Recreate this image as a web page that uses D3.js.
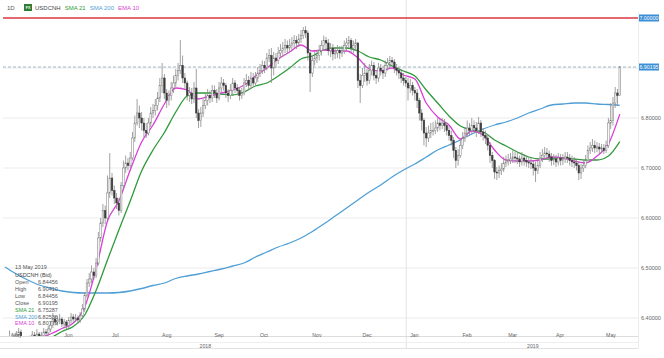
<!DOCTYPE html>
<html><head><meta charset="utf-8">
<script src="https://cdn.jsdelivr.net/npm/d3@7"></script>
<style>body{margin:0;background:#fff}svg{display:block;font-family:"Liberation Sans",Arial,sans-serif}</style>
</head><body><svg id="c" width="664" height="358"></svg>
<script>
// ---- data ----
const startDate = "2018-04-30", endDate = "2019-05-13";   // daily bars, weekdays
const firstOpen = 6.330;
const closes = [6.338,6.355,6.362,6.350,6.358, 6.366,6.372,6.360,6.348,6.342, 6.345,6.358,6.366,6.362,6.368, 6.360,6.365,6.372,6.370,6.378,
 6.385,6.398,6.392,6.395, 6.398, 6.388,6.392,6.385,6.395,6.402, 6.398,6.400,6.396,6.405,6.418, 6.445,6.470,6.478,6.492,6.485,
 6.510,6.560,6.590,6.615,6.600, 6.650,6.680,6.655,6.640,6.630, 6.615,6.665,6.700,6.710,6.705, 6.720,6.760,6.790,6.810,6.800,
 6.790,6.775,6.770,6.790,6.810, 6.815,6.825, 6.840,6.865,6.880, 6.850,6.835,6.845,6.860,6.870, 6.885,6.895,6.905,6.880,6.870,
 6.845,6.850,6.838,6.860,6.810, 6.795,6.810,6.825,6.835,6.845, 6.840,6.855,6.850,6.840,6.860, 6.870,6.865,6.850,6.845,6.855,
 6.870,6.860,6.855,6.845,6.850, 6.870,6.875,6.865,6.880,6.870, 6.880,6.890,6.895,6.905,6.900, 6.920,6.925,6.900,6.920,6.915,
 6.930,6.935,6.940,6.945,6.940, 6.945,6.950,6.955,6.950,6.958, 6.965,6.975,6.970, 6.930,6.890, 6.915,6.920,6.925,6.935,6.945,
 6.955,6.950,6.935,6.940,6.928, 6.930,6.935,6.930,6.935,6.945, 6.950,6.955,6.940,6.945,6.950, 6.875,6.865,6.885,6.890,6.875,
 6.895,6.905,6.885,6.880,6.900, 6.895,6.890,6.905,6.910,6.915, 6.912,6.900,6.895,6.890,6.880, 6.875, 6.870,6.860,6.865,6.855,
 6.850,6.835,6.810,6.795,6.770, 6.760,6.770,6.775,6.775,6.780, 6.790,6.785,6.790,6.785,6.775, 6.765,6.755,6.735,6.715, 6.725,
 6.745,6.760,6.770,6.780,6.775, 6.785,6.780,6.775,6.790,6.772, 6.765,6.760,6.745,6.725,6.715, 6.692,6.690,6.695,6.698, 6.710,
 6.712,6.715,6.718,6.722,6.720, 6.718,6.712,6.720,6.715,6.712, 6.710,6.708,6.700,6.695,6.705, 6.720,6.725,6.730,6.728,6.722,
 6.715,6.718,6.712,6.720,6.715, 6.718,6.722,6.720,6.715,6.712, 6.710,6.705,6.690,6.700,6.705, 6.715,6.735,6.740,6.745,6.740,
 6.742,6.738, 6.740,6.735,6.745, 6.790,6.795,6.830,6.850,6.84456, 6.90195];
const highs = [6.345,6.362,6.375,6.368,6.366, 6.374,6.380,6.377,6.364,6.353, 6.352,6.365,6.374,6.372,6.378, 6.372,6.372,6.380,6.378,6.385,
 6.392,6.410,6.405,6.404, 6.408, 6.402,6.398,6.396,6.402,6.410, 6.408,6.408,6.405,6.412,6.428, 6.452,6.478,6.490,6.505,6.500,
 6.520,6.572,6.600,6.628,6.625, 6.685,6.730,6.690,6.665,6.650, 6.640,6.672,6.715,6.725,6.720, 6.732,6.772,6.805,6.838,6.825,
 6.812,6.800,6.790,6.800,6.822, 6.828,6.838, 6.852,6.880,6.910, 6.888,6.858,6.855,6.872,6.885, 6.898,6.910,6.956,6.925,6.890,
 6.875,6.862,6.860,6.872,6.898, 6.818,6.822,6.838,6.848,6.858, 6.855,6.866,6.865,6.858,6.872, 6.882,6.878,6.870,6.858,6.868,
 6.880,6.876,6.868,6.862,6.860, 6.880,6.888,6.884,6.892,6.890, 6.892,6.902,6.908,6.915,6.914, 6.930,6.938,6.940,6.932,6.930,
 6.942,6.948,6.952,6.958,6.955, 6.958,6.962,6.966,6.964,6.968, 6.976,6.982,6.984, 6.975,6.935, 6.925,6.932,6.936,6.946,6.955,
 6.965,6.962,6.958,6.950,6.948, 6.942,6.946,6.944,6.945,6.955, 6.960,6.964,6.960,6.955,6.958, 6.952,6.888,6.900,6.910,6.898,
 6.908,6.915,6.912,6.895,6.910, 6.908,6.905,6.915,6.920,6.924, 6.922,6.918,6.908,6.902,6.898, 6.890, 6.882,6.880,6.878,6.872,
 6.862,6.858,6.840,6.818,6.800, 6.782,6.785,6.790,6.792,6.795, 6.800,6.798,6.800,6.798,6.792, 6.785,6.775,6.762,6.742, 6.738,
 6.758,6.772,6.782,6.795,6.790, 6.800,6.795,6.792,6.802,6.796, 6.780,6.775,6.768,6.752,6.732, 6.718,6.702,6.705,6.710, 6.722,
 6.725,6.728,6.730,6.735,6.732, 6.730,6.725,6.732,6.728,6.724, 6.722,6.720,6.715,6.712,6.716, 6.732,6.738,6.742,6.740,6.735,
 6.730,6.728,6.726,6.730,6.728, 6.728,6.732,6.732,6.728,6.725, 6.722,6.718,6.712,6.708,6.716, 6.726,6.745,6.752,6.758,6.755,
 6.752,6.750, 6.748,6.748,6.755, 6.800,6.830,6.842,6.862,6.858, 6.90410];
const lows = [6.328,6.334,6.350,6.344,6.345, 6.352,6.360,6.355,6.342,6.335, 6.333,6.340,6.352,6.355,6.356, 6.352,6.355,6.360,6.362,6.365,
 6.372,6.380,6.385,6.385, 6.388, 6.382,6.380,6.378,6.380,6.390, 6.390,6.392,6.388,6.390,6.400, 6.412,6.440,6.462,6.470,6.476,
 6.480,6.505,6.552,6.582,6.588, 6.595,6.640,6.645,6.628,6.618, 6.605,6.610,6.655,6.690,6.695, 6.700,6.715,6.752,6.785,6.780,
 6.775,6.762,6.760,6.765,6.782, 6.800,6.805, 6.815,6.832,6.850, 6.838,6.820,6.825,6.835,6.850, 6.862,6.875,6.888,6.870,6.858,
 6.835,6.832,6.828,6.830,6.800, 6.780,6.782,6.802,6.818,6.825, 6.830,6.832,6.840,6.830,6.835, 6.852,6.855,6.840,6.832,6.838,
 6.848,6.850,6.845,6.835,6.838, 6.845,6.862,6.856,6.858,6.862, 6.865,6.872,6.882,6.888,6.890, 6.895,6.912,6.870,6.885,6.900,
 6.908,6.920,6.925,6.930,6.928, 6.932,6.935,6.940,6.938,6.942, 6.950,6.958,6.960, 6.915,6.852, 6.882,6.905,6.910,6.915,6.925,
 6.935,6.938,6.925,6.922,6.915, 6.918,6.920,6.918,6.922,6.928, 6.935,6.940,6.930,6.930,6.935, 6.860,6.830,6.860,6.872,6.865,
 6.868,6.885,6.875,6.868,6.872, 6.885,6.878,6.882,6.895,6.900, 6.902,6.890,6.885,6.878,6.870, 6.865, 6.862,6.835,6.850,6.845,
 6.835,6.820,6.795,6.775,6.745, 6.742,6.752,6.760,6.765,6.768, 6.772,6.775,6.778,6.772,6.765, 6.755,6.745,6.720,6.700, 6.705,
 6.720,6.738,6.752,6.762,6.765, 6.768,6.770,6.762,6.768,6.762, 6.755,6.748,6.735,6.710,6.700, 6.678,6.676,6.680,6.686, 6.692,
 6.702,6.705,6.708,6.710,6.710, 6.708,6.702,6.705,6.705,6.702, 6.700,6.698,6.685,6.672,6.688, 6.700,6.712,6.716,6.718,6.712,
 6.705,6.706,6.702,6.705,6.705, 6.706,6.710,6.710,6.705,6.702, 6.700,6.695,6.676,6.678,6.692, 6.700,6.710,6.728,6.732,6.730,
 6.732,6.728, 6.730,6.728,6.730, 6.740,6.778,6.785,6.820,6.825, 6.84456];
// moving averages, sampled on each Monday from maStart
const maStart = "2018-04-30";
const sma21 = [6.335,6.340,6.345,6.352,6.360,6.373,6.383,6.406,6.455,6.516,6.576,6.634,6.694,6.736,6.771,6.812,6.844,6.850,6.850,6.848,
 6.846,6.852,6.864,6.870,6.884,6.900,6.918,6.924,6.936,6.940,6.940,6.934,6.922,6.916,6.904,6.894,6.884,6.856,6.830,6.804,
 6.784,6.776,6.772,6.756,6.744,6.732,6.722,6.718,6.718,6.720,6.718,6.716,6.716,6.724,6.75287];
const sma200 = [6.502,6.488,6.476,6.466,6.460,6.454,6.451,6.450,6.450,6.450,6.451,6.454,6.459,6.465,6.470,6.479,6.484,6.488,6.493,6.498,
 6.504,6.510,6.522,6.532,6.542,6.550,6.560,6.573,6.588,6.604,6.620,6.636,6.652,6.666,6.682,6.696,6.708,6.722,6.736,6.746,
 6.756,6.768,6.778,6.786,6.792,6.800,6.810,6.818,6.826,6.828,6.830,6.830,6.828,6.827,6.82536];
const ema10 = [6.345,6.355,6.355,6.360,6.368,6.379,6.390,6.422,6.498,6.594,6.634,6.696,6.752,6.786,6.828,6.860,6.856,6.838,6.844,6.850,
 6.856,6.866,6.884,6.900,6.918,6.932,6.946,6.934,6.936,6.934,6.934,6.920,6.898,6.894,6.900,6.886,6.878,6.830,6.802,6.786,
 6.758,6.774,6.766,6.736,6.716,6.714,6.714,6.716,6.722,6.720,6.714,6.710,6.724,6.748,6.80779];
const yTicks = [6.4, 6.5, 6.6, 6.7, 6.8, 6.9];
const levelLine = 7.0;
const symbol = "USDCNH", period = "1D";
const seriesNames = ["SMA 21", "SMA 200", "EMA 10"];
const seriesColors = ["#2e9a3a", "#4f9fd6", "#d93fd6"];

// ---- chart ----
const svg = d3.select("#c");
const plot = {l: 3, r: 638, t: 12, b: 336};
const parse = d3.utcParse("%Y-%m-%d");
const days = d3.utcDay.range(parse(startDate), d3.utcDay.offset(parse(endDate), 1))
  .filter(d => d.getUTCDay() !== 0 && d.getUTCDay() !== 6);
const n = days.length;
const bars = days.map((d, i) => ({d, i, o: i ? closes[i-1] : firstOpen, h: highs[i], l: lows[i], c: closes[i]}));

const x = d3.scaleLinear().domain([0, n + 7]).range([5, plot.r]);
const y = d3.scaleLinear().domain([6.4, 7.0]).range([318, 18]);

svg.append("defs").append("clipPath").attr("id", "clip")
  .append("rect").attr("x", plot.l).attr("y", plot.t).attr("width", plot.r - plot.l).attr("height", plot.b - plot.t);

// grid
svg.append("g").selectAll("line").data(yTicks).join("line")
  .attr("x1", plot.l).attr("x2", plot.r).attr("y1", d => y(d)).attr("y2", d => y(d))
  .attr("stroke", "#ebebeb").attr("stroke-width", 1);

// month index positions (first trading day of each month; the partial April day is skipped)
const monthIdx = [];
days.forEach((d, i) => { if (i > 0 && d.getUTCMonth() !== days[i-1].getUTCMonth()) monthIdx.push(i); });
const janIdx = monthIdx.find(i => days[i].getUTCMonth() === 0);

// year separator
svg.append("line").attr("x1", x(janIdx) + 0.5).attr("x2", x(janIdx) + 0.5).attr("y1", 0).attr("y2", 348)
  .attr("stroke", "#e2e2e2");
// right separator
svg.append("line").attr("x1", plot.r + 0.5).attr("x2", plot.r + 0.5).attr("y1", plot.t).attr("y2", 348)
  .attr("stroke", "#ececec");

const g = svg.append("g").attr("clip-path", "url(#clip)");

// level line and close line
g.append("line").attr("x1", plot.l).attr("x2", plot.r).attr("y1", y(levelLine)).attr("y2", y(levelLine))
  .attr("stroke", "#d8373f").attr("stroke-width", 1.3);
g.append("line").attr("x1", plot.l).attr("x2", plot.r).attr("y1", y(closes[n-1])).attr("y2", y(closes[n-1]))
  .attr("stroke", "#8ea6b8").attr("stroke-width", 0.8).attr("stroke-dasharray", "3,2");

// moving averages
const maIdx = d3.range(sma21.length).map(k => {
  const md = d3.utcDay.offset(parse(maStart), 7 * k);
  return d3.bisectLeft(days, md);
});
const line = d3.line().curve(d3.curveMonotoneX).x(d => x(d[0])).y(d => y(d[1]));
[[sma200, seriesColors[1]], [sma21, seriesColors[0]], [ema10, seriesColors[2]]].forEach(([arr, col]) => {
  g.append("path").datum(arr.map((v, j) => [maIdx[j], v]))
    .attr("d", line).attr("fill", "none").attr("stroke", col).attr("stroke-width", 1.3);
});

// candles
const cg = g.append("g");
cg.selectAll("line").data(bars).join("line")
  .attr("x1", d => x(d.i)).attr("x2", d => x(d.i))
  .attr("y1", d => y(d.h)).attr("y2", d => y(d.l))
  .attr("stroke", "#8a8a8a").attr("stroke-width", 0.8);
cg.selectAll("rect").data(bars).join("rect")
  .attr("x", d => x(d.i) - 0.8).attr("width", 1.6)
  .attr("y", d => y(Math.max(d.o, d.c)))
  .attr("height", d => Math.max(0.8, Math.abs(y(d.o) - y(d.c))))
  .attr("fill", d => d.c >= d.o ? "#ffffff" : "#3c3c3c")
  .attr("stroke", d => d.c >= d.o ? "#7a7a7a" : "#3c3c3c").attr("stroke-width", 0.5);

// right axis
const fmt = d3.format(".5f");
const ay = svg.append("g").attr("transform", `translate(${plot.r},0)`)
  .call(d3.axisRight(y).tickValues(yTicks.filter(t => t < 6.85)).tickFormat(fmt).tickSize(0).tickPadding(3));
ay.select(".domain").remove();
ay.selectAll("text").attr("font-size", 5.5).attr("fill", "#666").attr("font-family", "Liberation Sans, Arial");

// value tags
[levelLine, closes[n-1]].forEach(v => {
  svg.append("rect").attr("x", plot.r + 1).attr("y", y(v) - 3.5).attr("width", 20).attr("height", 7).attr("fill", "#3b8fd6");
  svg.append("text").attr("x", plot.r + 11).attr("y", y(v) + 2).attr("text-anchor", "middle")
    .attr("font-size", 5.3).attr("fill", "#fff").text(fmt(v));
});

// bottom axis
svg.append("line").attr("x1", 0).attr("x2", plot.r).attr("y1", 336.5).attr("y2", 336.5).attr("stroke", "#dcdcdc");
svg.append("line").attr("x1", 0).attr("x2", plot.r).attr("y1", 342.5).attr("y2", 342.5).attr("stroke", "#efefef");
svg.append("line").attr("x1", 0).attr("x2", plot.r).attr("y1", 348.5).attr("y2", 348.5).attr("stroke", "#e2e2e2");
const ax = svg.append("g").attr("transform", "translate(0,336)")
  .call(d3.axisBottom(x).tickValues(monthIdx).tickFormat(i => d3.utcFormat("%b")(days[i])).tickSize(0).tickPadding(0));
ax.select(".domain").remove();
ax.selectAll("text").attr("text-anchor", "start").attr("dx", 4).attr("dy", "0.1em")
  .attr("font-size", 5.2).attr("fill", "#666");
[[0, janIdx], [janIdx, null]].forEach(([a, b]) => {
  const x0 = x(a), x1 = b === null ? 660 : x(b);
  svg.append("text").attr("x", (x0 + x1) / 2).attr("y", 347.5).attr("text-anchor", "middle")
    .attr("font-size", 5.2).attr("fill", "#666").text(d3.utcFormat("%Y")(days[a]));
});

// header
svg.append("text").attr("x", 7).attr("y", 10).attr("font-size", 6).attr("fill", "#555").text(period);
svg.append("rect").attr("x", 24).attr("y", 4).attr("width", 8).attr("height", 7).attr("fill", "#2e7d32");
svg.append("text").attr("x", 28).attr("y", 9.3).attr("text-anchor", "middle").attr("font-size", 3.6)
  .attr("fill", "#fff").attr("font-weight", "bold").text("FX");
const hdr = svg.append("text").attr("x", 35).attr("y", 10).attr("font-size", 6);
hdr.append("tspan").attr("fill", "#444").text(symbol);
seriesNames.forEach((s, k) => hdr.append("tspan").attr("dx", 4).attr("fill", seriesColors[k]).text(s));

// info box
const last = n - 1;
const infoRows = [
  ["Open", bars[last].o, "#555"], ["High", highs[last], "#555"], ["Low", lows[last], "#555"], ["Close", closes[last], "#555"],
  [seriesNames[0], sma21[sma21.length-1], seriesColors[0]],
  [seriesNames[1], sma200[sma200.length-1], seriesColors[1]],
  [seriesNames[2], ema10[ema10.length-1], seriesColors[2]]];
const ib = svg.append("g").attr("font-size", 5.5);
ib.append("text").attr("x", 15).attr("y", 269).attr("fill", "#555").text(d3.utcFormat("%-d %B %Y")(days[last]));
ib.append("text").attr("x", 15).attr("y", 276.5).attr("fill", "#444").text(symbol + " (Bid)");
infoRows.forEach(([lab, v, col], k) => {
  const yy = 284 + k * 6.9;
  ib.append("text").attr("x", 15).attr("y", yy).attr("fill", col).text(lab);
  ib.append("text").attr("x", 38).attr("y", yy).attr("fill", "#555").text(fmt(v));
});
</script></body></html>
